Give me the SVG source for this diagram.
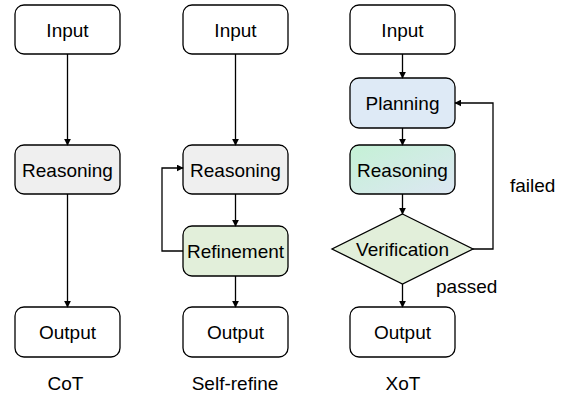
<svg xmlns="http://www.w3.org/2000/svg" width="561" height="394" viewBox="0 0 561 394">
<defs>
<marker id="ah" viewBox="0 0 10 10" refX="9" refY="5" markerWidth="7" markerHeight="7" markerUnits="userSpaceOnUse" orient="auto">
<path d="M0,0 L10,5 L0,10 z" fill="#000"/>
</marker>
<linearGradient id="grad" x1="0" y1="0" x2="1" y2="1">
<stop offset="0" stop-color="#c4f1d5"/>
<stop offset="1" stop-color="#dde7f3"/>
</linearGradient>
<style>
.box{stroke:#000;stroke-width:1.3}
.t{font-family:"Liberation Sans",Arial,sans-serif;font-size:19px;fill:#000;text-anchor:middle}
.l{font-family:"Liberation Sans",Arial,sans-serif;font-size:19px;fill:#000}
.c{fill:none;stroke:#000;stroke-width:1.3;marker-end:url(#ah)}
</style>
</defs>
<rect width="561" height="394" fill="#fff"/>
<g id="cot-input"><rect class="box" x="15" y="5" width="105" height="49" rx="9" fill="#fff"/><text class="t" x="67.5" y="36.5">Input</text></g>
<g id="cot-reasoning"><rect class="box" x="15" y="145" width="105" height="49" rx="9" fill="#efefef"/><text class="t" x="67.5" y="176.5">Reasoning</text></g>
<g id="cot-output"><rect class="box" x="15" y="307" width="105" height="50" rx="9" fill="#fff"/><text class="t" x="67.5" y="339">Output</text></g>
<g id="sr-input"><rect class="box" x="183" y="5" width="105" height="49" rx="9" fill="#fff"/><text class="t" x="235.5" y="36.5">Input</text></g>
<g id="sr-reasoning"><rect class="box" x="183" y="145" width="105" height="49" rx="9" fill="#efefef"/><text class="t" x="235.5" y="176.5">Reasoning</text></g>
<g id="sr-refinement"><rect class="box" x="183" y="226" width="105" height="50" rx="9" fill="#e2efda"/><text class="t" x="235.5" y="258">Refinement</text></g>
<g id="sr-output"><rect class="box" x="183" y="307" width="105" height="50" rx="9" fill="#fff"/><text class="t" x="235.5" y="339">Output</text></g>
<g id="xot-input"><rect class="box" x="350" y="5" width="105" height="49" rx="9" fill="#fff"/><text class="t" x="402.5" y="36.5">Input</text></g>
<g id="xot-planning"><rect class="box" x="350" y="78" width="105" height="50" rx="9" fill="#deeaf6"/><text class="t" x="402.5" y="110">Planning</text></g>
<g id="xot-reasoning"><rect class="box" x="350" y="145" width="105" height="49" rx="9" fill="url(#grad)"/><text class="t" x="402.5" y="176.5">Reasoning</text></g>
<g id="xot-verification"><polygon class="box" points="402.5,214 473,249 402.5,284 332,249" fill="#e2efda"/><text class="t" x="402.5" y="256">Verification</text></g>
<g id="xot-output"><rect class="box" x="350" y="307" width="105" height="50" rx="9" fill="#fff"/><text class="t" x="402.5" y="339">Output</text></g>
<g id="connectors">
<path class="c" d="M67.5,54 V145"/>
<path class="c" d="M67.5,194 V307"/>
<path class="c" d="M235.5,54 V145"/>
<path class="c" d="M235.5,194 V226"/>
<path class="c" d="M235.5,276 V307"/>
<path class="c" d="M183,251 H162 V168 H183"/>
<path class="c" d="M402.5,54 V78"/>
<path class="c" d="M402.5,128 V145"/>
<path class="c" d="M402.5,194 V214"/>
<path class="c" d="M402.5,284 V307"/>
<path class="c" d="M473,249 H493 V103 H455"/>
</g>
<g id="labels">
<text class="l" x="510" y="192">failed</text>
<text class="l" x="436" y="292.5">passed</text>
<text class="l" x="65.5" y="390" text-anchor="middle">CoT</text>
<text class="l" x="235" y="390" text-anchor="middle">Self-refine</text>
<text class="l" x="403" y="390" text-anchor="middle">XoT</text>
</g>
</svg>
